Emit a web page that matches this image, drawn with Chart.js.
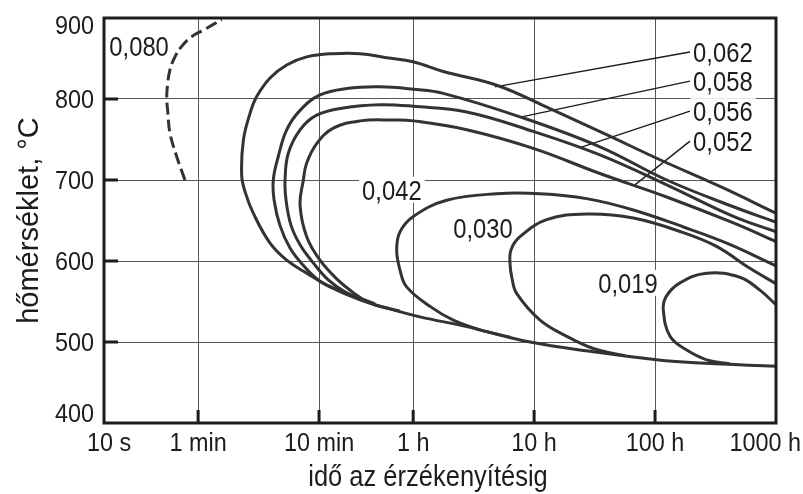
<!DOCTYPE html>
<html>
<head>
<meta charset="utf-8">
<script src="https://cdn.jsdelivr.net/npm/chart.js@4.4.0/dist/chart.umd.min.js"></script>
<style>
  html, body { margin: 0; padding: 0; background: #fff; }
</style>
</head>
<body>
<canvas id="graph" width="803" height="494"></canvas>
<script>
// axis ticks (time in seconds, log scale)
const xTickValues = [10, 60, 600, 3600, 36000, 360000, 3600000];
const xTickLabels = ['10 s', '1 min', '10 min', '1 h', '10 h', '100 h', '1000 h'];
const yTickValues = [400, 500, 600, 700, 800, 900];

// curves: time (s) and temperature (°C)
const time080 = [46.7, 39.9, 35.1, 33.6, 33.0, 33.6, 35.1, 38.6, 43.9, 53.1, 66.2, 94];
const temp080 = [700, 729, 758, 786, 801, 819, 836, 852, 865, 877, 885, 898];

const time062 = [3600000, 1240000, 395000, 143000, 48700, 17700, 6380, 3590, 2170, 1310, 787, 474, 324, 236, 183, 161, 142, 137.5, 147, 171.5, 236, 324, 474, 739, 1310, 2170, 4100, 9980, 33300, 111000, 371000, 847000, 3600000];
const temp062 = [659, 692, 725, 756, 788, 817, 834, 846, 851, 856, 856, 852, 842, 826, 803, 782, 749, 706, 685, 659, 622, 601, 585, 568, 552, 542, 531, 519, 500, 488, 478, 474, 470];

const time058 = [3600000, 1600000, 449000, 126000, 27500, 6380, 3610, 1910, 1020, 611, 418, 324, 276, 251, 255, 285, 345, 442, 611, 894];
const temp058 = [648, 667, 700, 741, 778, 807, 812, 815, 813, 805, 786, 762, 729, 700, 675, 644, 616, 595, 575, 563];

const time056 = [3600000, 1600000, 449000, 126000, 35400, 9980, 3610, 1910, 952, 574, 418, 334, 314, 320, 352, 418, 535, 711, 984, 1740];
const temp056 = [636, 655, 694, 731, 760, 784, 791, 793, 789, 780, 762, 733, 700, 675, 644, 620, 598, 577, 562, 547];

const time052 = [3600000, 1600000, 449000, 126000, 35400, 9980, 3610, 2470, 1310, 787, 574, 474, 445, 418, 474, 611, 839, 1150, 1580, 2800];
const temp052 = [624, 647, 679, 708, 739, 762, 773, 774, 773, 764, 745, 721, 700, 669, 630, 601, 578, 561, 548, 538];

const time042 = [3600000, 1410000, 617000, 238000, 97900, 40300, 17700, 6810, 3610, 2800, 2630, 2800, 3180, 4960, 7730, 12850, 22750];
const temp042 = [594, 622, 642, 663, 677, 683, 683, 675, 655, 636, 614, 589, 568, 544, 527, 515, 506];

const time030 = [3600000, 2190000, 1160000, 617000, 238000, 97900, 45700, 27500, 23200, 22750, 23600, 25800, 40300, 67000, 111000, 203000];
const temp030 = [572, 591, 618, 635, 653, 658, 651, 630, 614, 597, 579, 560, 527, 507, 492, 483];

const time019 = [3600000, 2650000, 1810000, 962000, 578000, 444000, 421000, 479000, 658000, 962000, 1500000];
const temp019 = [546, 564, 580, 585, 573, 556, 540, 507, 490, 478, 473];

// curve labels and where they sit (time, temperature)
const curveNames = ['0,080', '0,062', '0,058', '0,056', '0,052', '0,042', '0,030', '0,019'];
const labelTime = [19.5, 1310000, 1310000, 1310000, 1310000, 2400, 13600, 215000];
const labelTemp = [865, 858, 822, 785, 748, 688, 641, 573];

// leader lines from the right-hand labels to their curves
const leaderFromTime = [700000, 700000, 700000, 700000];
const leaderFromTemp = [858, 822, 785, 748];
const leaderToTime = [17100, 28400, 86300, 245500];
const leaderToTemp = [815, 778, 740, 694];

const FONT = "'Liberation Sans', Arial, sans-serif";
const INK = '#1c1c1c';
const CURVE = '#333';

function pts(ts, vs) {
    return ts.map((t, i) => ({x: t, y: vs[i]}));
}

// text squeezed sideways, the scan uses a condensed face
function squeezed(ctx, text, x, y, size, sx, align) {
    ctx.save();
    ctx.font = size + 'px ' + FONT;
    ctx.textAlign = align;
    ctx.textBaseline = 'alphabetic';
    ctx.translate(x, y);
    ctx.scale(sx, 1);
    ctx.fillText(text, 0, 0);
    ctx.restore();
}

const curveData = [
    [time080, temp080], [time062, temp062], [time058, temp058], [time056, temp056],
    [time052, temp052], [time042, temp042], [time030, temp030], [time019, temp019]
];

const datasets = curveData.map((c, i) => ({
    label: curveNames[i],
    data: pts(c[0], c[1]),
    showLine: true,
    borderColor: CURVE,
    borderWidth: 3,
    borderDash: i === 0 ? [12, 5] : [],
    pointRadius: 0,
    tension: 0.4,
    fill: false
}));

leaderFromTime.forEach((t, i) => {
    datasets.push({
        label: 'leader ' + curveNames[i + 1],
        data: [{x: t, y: leaderFromTemp[i]}, {x: leaderToTime[i], y: leaderToTemp[i]}],
        showLine: true,
        borderColor: INK,
        borderWidth: 1.4,
        pointRadius: 0,
        tension: 0
    });
});

const overlay = {
    id: 'overlay',
    beforeDatasetsDraw(chart) {
        const {ctx, chartArea: a, scales: {x, y}} = chart;
        ctx.save();
        // short tick marks inside the frame
        ctx.strokeStyle = INK;
        ctx.lineWidth = 3;
        yTickValues.slice(1, -1).forEach(v => {
            const py = y.getPixelForValue(v);
            ctx.beginPath(); ctx.moveTo(a.left, py); ctx.lineTo(a.left + 14, py); ctx.stroke();
        });
        xTickValues.slice(1, -1).forEach(v => {
            const px = x.getPixelForValue(v);
            ctx.beginPath(); ctx.moveTo(px, a.bottom); ctx.lineTo(px, a.bottom - 13); ctx.stroke();
        });
        // curve labels on white patches
        ctx.font = '28px ' + FONT;
        curveNames.forEach((name, i) => {
            const px = x.getPixelForValue(labelTime[i]);
            const py = y.getPixelForValue(labelTemp[i]);
            const w = ctx.measureText(name).width * 0.85;
            ctx.fillStyle = '#fff';
            ctx.fillRect(px - w / 2 - 3, py - 13, w + 6, 26);
            ctx.fillStyle = INK;
            squeezed(ctx, name, px, py + 10, 28, 0.85, 'center');
        });
        ctx.restore();
    },
    afterDatasetsDraw(chart) {
        const {ctx, chartArea: a} = chart;
        ctx.save();
        ctx.strokeStyle = INK;
        ctx.lineWidth = 3;
        ctx.strokeRect(a.left, a.top, a.right - a.left, a.bottom - a.top);
        ctx.restore();
    },
    afterDraw(chart) {
        const {ctx, chartArea: a, scales: {x, y}} = chart;
        ctx.save();
        ctx.fillStyle = INK;
        // y tick labels, end ones pulled inside
        yTickValues.forEach((v, i) => {
            let py = y.getPixelForValue(v);
            if (i === 0) py -= 10;
            if (i === yTickValues.length - 1) py += 7;
            squeezed(ctx, String(v), a.left - 10, py + 9, 26, 0.9, 'right');
        });
        // x tick labels
        xTickValues.forEach((v, i) => {
            let px = x.getPixelForValue(v);
            let align = 'center';
            if (i === 0) px += 5;
            if (i === xTickValues.length - 1) {
                align = 'right';
                px = chart.width - 2;
            }
            squeezed(ctx, xTickLabels[i], px, a.bottom + 28, 26, 0.9, align);
        });
        // x axis title
        squeezed(ctx, 'idő az érzékenyítésig', (a.left + a.right) / 2 - 12, a.bottom + 63, 30, 0.85, 'center');
        ctx.restore();
    }
};

const graph = document.getElementById('graph').getContext('2d');
new Chart(graph, {
    type: 'scatter',
    data: {datasets: datasets},
    options: {
        responsive: false,
        animation: false,
        layout: {padding: {top: 18, right: 27, bottom: 0, left: 0}},
        plugins: {legend: {display: false}, tooltip: {enabled: false}},
        scales: {
            x: {
                type: 'logarithmic',
                min: 10,
                max: 3600000,
                afterBuildTicks: axis => { axis.ticks = xTickValues.map(v => ({value: v})); },
                afterFit: axis => { axis.height = 71; axis.paddingLeft = 0; axis.paddingRight = 0; },
                ticks: {display: false},
                grid: {color: '#555', lineWidth: 1, drawTicks: false},
                border: {display: false}
            },
            y: {
                min: 400,
                max: 900,
                afterBuildTicks: axis => { axis.ticks = yTickValues.map(v => ({value: v})); },
                afterFit: axis => { axis.width = 104; },
                ticks: {display: false},
                grid: {color: '#555', lineWidth: 1, drawTicks: false},
                border: {display: false},
                title: {
                    display: true,
                    text: 'hőmérséklet, °C',
                    color: INK,
                    font: {family: FONT, size: 29},
                    padding: {top: 13, bottom: 0}
                }
            }
        }
    },
    plugins: [overlay]
});
</script>
</body>
</html>
